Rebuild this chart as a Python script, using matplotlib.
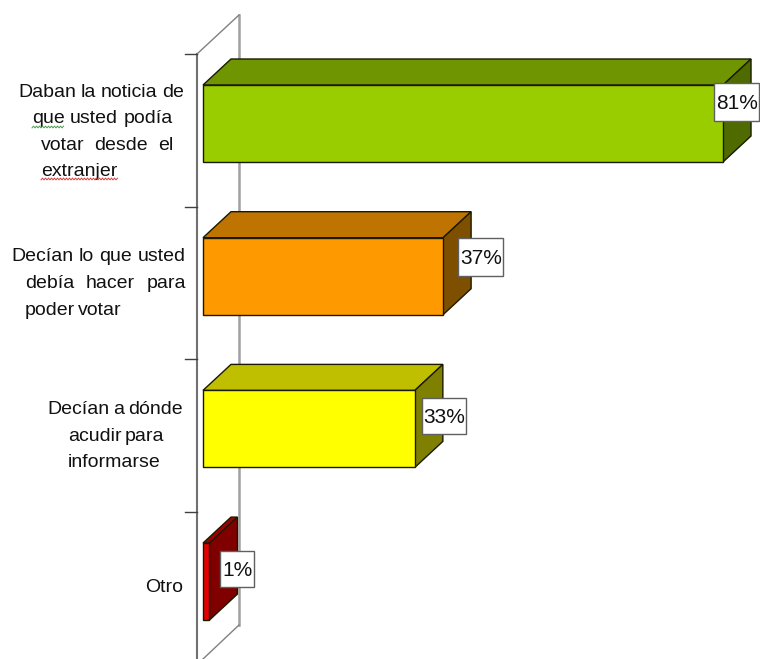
import numpy as np
import matplotlib
matplotlib.use("Agg")
import matplotlib.pyplot as plt
from matplotlib.patches import Polygon

plt.rcParams['font.family'] = ['Liberation Sans', 'DejaVu Sans']

WIDTH, HEIGHT = 760, 659

values = [81, 37.4, 33, 1]
value_labels = ['81%', '37%', '33%', '1%']
category_lines = [
    ['Daban la noticia de', 'que usted podía', 'votar desde el', 'extranjer'],
    ['Decían lo que usted', 'debía hacer para', 'poder votar'],
    ['Decían a dónde', 'acudir para', 'informarse'],
    ['Otro'],
]
front_colors = ['#9ACD00', '#FF9900', '#FFFF00', '#E60000']
top_colors = ['#6F9600', '#BF7300', '#BFBF00', '#A00000']
side_colors = ['#4F6B00', '#7F4F00', '#808000', '#800000']

# pixel layout of the scales
PX_ZERO = 203
PX_PER_PCT = 6.42
PX_FIRST = 123.5
PX_PER_CAT = 152.7
PX_TICK = 54
DEPTH_X = 28 / PX_PER_PCT
DEPTH_Y = 26 / PX_PER_CAT
BAR_HALF = 38.5 / PX_PER_CAT
LABEL_SIZE = 14

# line x extents and centre y in pixels, per category
line_boxes = [
    [(18, 184, 91), (32, 173, 117), (41, 173, 144), (41, 117, 170)],
    [(11, 186, 255), (25, 186, 282), (25, 122, 309)],
    [(47, 183, 408), (68, 164, 435), (68, 158, 461)],
    [(145, 182, 586)],
]
# value box left, right, top, bottom in pixels
value_boxes = [(714, 759, 83, 121), (458, 503, 238, 276), (422, 466, 398, 434), (220, 254, 551, 587)]


def to_x(px):
    return (px - PX_ZERO) / PX_PER_PCT


def to_y(px):
    return (px - PX_FIRST) / PX_PER_CAT


def draw_wall(ax):
    wall_color = '#808080'
    ax.plot([to_x(197), to_x(197)], [to_y(54), to_y(662)], color='#707070', lw=1.5, zorder=1)
    ax.plot([to_x(239), to_x(239)], [to_y(15), to_y(625)], color='#A0A0A0', lw=1.8, zorder=1)
    ax.plot([to_x(197), to_x(239)], [to_y(54), to_y(15)], color=wall_color, lw=1, zorder=1)
    ax.plot([to_x(239), to_x(203)], [to_y(625), to_y(659)], color=wall_color, lw=1, zorder=1)
    for i in range(4):
        tick_y = to_y(PX_TICK) + i
        ax.plot([to_x(185), to_x(197)], [tick_y, tick_y], color='#404040', lw=1, zorder=1)


def draw_bar(ax, i, value):
    top = i - BAR_HALF
    bottom = i + BAR_HALF
    edge = dict(edgecolor='#1A1A00', linewidth=1, joinstyle='miter', zorder=3)
    ax.add_patch(Polygon([(0, top), (DEPTH_X, top - DEPTH_Y), (value + DEPTH_X, top - DEPTH_Y), (value, top)],
                         facecolor=top_colors[i], **edge))
    ax.add_patch(Polygon([(value, top), (value + DEPTH_X, top - DEPTH_Y), (value + DEPTH_X, bottom - DEPTH_Y), (value, bottom)],
                         facecolor=side_colors[i], **edge))
    ax.add_patch(Polygon([(0, top), (value, top), (value, bottom), (0, bottom)],
                         facecolor=front_colors[i], **edge))


def draw_justified(ax, fig, line, x0, x1, yc):
    words = line.split(' ')
    renderer = fig.canvas.get_renderer()
    texts = [ax.text(0, to_y(yc), w, fontsize=LABEL_SIZE, color='#111111', va='center_baseline', ha='left', zorder=5)
             for w in words]
    widths = [t.get_window_extent(renderer).width for t in texts]
    gap = (x1 - x0 - sum(widths)) / max(len(words) - 1, 1)
    x = x0
    for t, w in zip(texts, widths):
        t.set_x(to_x(x))
        x += w + gap


def draw_squiggle(ax, x0, x1, y, color):
    xs = np.arange(x0, x1 + 1, 1.5)
    ys = y + np.where(np.arange(len(xs)) % 2 == 0, 0.9, -0.9)
    ax.plot(to_x(xs), to_y(ys), color=color, lw=0.7, zorder=5)


def plot():
    fig = plt.figure(figsize=(WIDTH / 100, HEIGHT / 100), dpi=100, facecolor='white')
    ax = fig.add_axes([0, 0, 1, 1])
    ax.set_xlim(to_x(0), to_x(WIDTH))
    ax.set_ylim(to_y(HEIGHT), to_y(0))
    ax.axis('off')

    draw_wall(ax)
    for i, value in enumerate(values):
        draw_bar(ax, i, value)

    for lines, boxes in zip(category_lines, line_boxes):
        for line, (x0, x1, yc) in zip(lines, boxes):
            draw_justified(ax, fig, line, x0, x1, yc)

    draw_squiggle(ax, 32, 64, 127, '#4E9A4E')
    draw_squiggle(ax, 41, 117, 179, '#D04040')

    for label, (left, right, top, bottom) in zip(value_labels, value_boxes):
        ax.add_patch(Polygon([(to_x(left), to_y(top)), (to_x(right), to_y(top)),
                              (to_x(right), to_y(bottom)), (to_x(left), to_y(bottom))],
                             facecolor='white', edgecolor='#606060', linewidth=1, zorder=6))
        ax.text(to_x(right - 1), to_y((top + bottom) / 2), label, fontsize=15,
                color='#111111', ha='right', va='center_baseline', zorder=7)

    fig.savefig('out.png', dpi=100)


if __name__ == '__main__':
    plot()
